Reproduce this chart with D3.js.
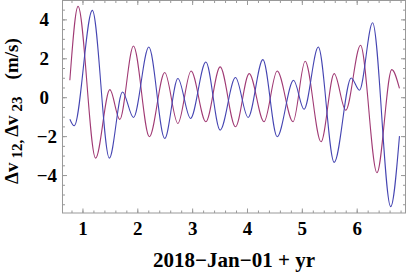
<!DOCTYPE html>
<html>
<head>
<meta charset="utf-8">
<script src="https://cdn.jsdelivr.net/npm/d3@7"></script>
<style>
  body { margin: 0; background: #fff; }
  text { font-family: 'Liberation Serif', 'Times New Roman', serif; font-weight: bold; }
</style>
</head>
<body>
<div id="chart"></div>
<script>
// Data (turning points of each curve)
var xPurple = [0.77, 0.92, 1.24, 1.50, 1.68, 1.93, 2.22, 2.50, 2.74, 2.98, 3.25, 3.51, 3.79, 4.04, 4.31, 4.55, 4.84, 5.06, 5.35, 5.59, 5.80, 6.07, 6.37, 6.64, 6.78]
var yPurple = [0.87, 4.67, -3.13, 0.39, -1.14, 2.63, -2.03, 1.27, -1.35, 1.35, -1.26, 1.56, -1.52, 1.21, -1.26, 1.35, -1.26, 1.85, -2.29, 1.21, -0.67, 2.67, -3.88, 1.42, 0.45]

var xBlue = [0.77, 0.85, 1.18, 1.49, 1.73, 1.93, 2.21, 2.50, 2.74, 2.97, 3.25, 3.51, 3.79, 4.02, 4.29, 4.55, 4.85, 5.04, 5.30, 5.59, 5.90, 6.05, 6.29, 6.62, 6.78]
var yBlue = [-1.13, -1.47, 4.46, -3.13, 0.27, -1.04, 2.58, -2.12, 0.96, -1.09, 1.81, -1.69, 1.01, -1.04, 1.93, -2.03, 0.87, -0.62, 2.58, -3.35, 0.99, 0.36, 3.83, -5.62, -2.0]

var xTicks = [1, 2, 3, 4, 5, 6]
var yTicks = [-4, -2, 0, 2, 4]
var xMinor = d3.range(8, 69, 2).map(d => d / 10)
var yMinor = d3.range(-11, 10).map(d => d / 2)

var xLabel = '2018\u2212Jan\u221201 + yr'

// Set up margin/height/width
var margin = { top: 0.5, left: 62.5, right: 1.5, bottom: 61 }
var svgWidth = 407
var svgHeight = 274
var width = svgWidth - margin.left - margin.right
var height = svgHeight - margin.top - margin.bottom

var svg = d3
  .select('#chart')
  .append('svg')
  .attr('width', svgWidth)
  .attr('height', svgHeight)
  .append('g')
  .attr('transform', `translate(${margin.left},${margin.top})`)

// Scales
var xPositionScale = d3.scaleLinear().domain([0.636, 6.89]).range([0, width])
var yPositionScale = d3.scaleLinear().domain([-5.95, 4.97]).range([height, 0])

var line = d3
  .line()
  .x(d => xPositionScale(d[0]))
  .y(d => yPositionScale(d[1]))
  .curve(d3.curveMonotoneX)

var fmt = d => (d < 0 ? '\u2212' + Math.abs(d) : '' + d)
var frameColor = '#999'

// minor ticks on all four sides
function minorAxes() {
  svg.append('g').attr('class', 'axis').attr('transform', `translate(0,${height})`)
    .call(d3.axisBottom(xPositionScale).tickValues(xMinor).tickSize(-2.5).tickFormat(''))
  svg.append('g').attr('class', 'axis')
    .call(d3.axisTop(xPositionScale).tickValues(xMinor).tickSize(-2.5).tickFormat(''))
  svg.append('g').attr('class', 'axis')
    .call(d3.axisLeft(yPositionScale).tickValues(yMinor).tickSize(-2.5).tickFormat(''))
  svg.append('g').attr('class', 'axis').attr('transform', `translate(${width},0)`)
    .call(d3.axisRight(yPositionScale).tickValues(yMinor).tickSize(-2.5).tickFormat(''))
}
minorAxes()

// major ticks
var xAxis = d3.axisBottom(xPositionScale).tickValues(xTicks).tickSize(-4.5).tickPadding(9).tickFormat(fmt)
svg.append('g').attr('class', 'axis x-axis').attr('transform', `translate(0,${height})`).call(xAxis)

svg.append('g').attr('class', 'axis')
  .call(d3.axisTop(xPositionScale).tickValues(xTicks).tickSize(-4.5).tickFormat(''))

var yAxis = d3.axisLeft(yPositionScale).tickValues(yTicks).tickSize(-4.5).tickFormat(fmt)
svg.append('g').attr('class', 'axis y-axis').call(yAxis)
svg.selectAll('.y-axis text').attr('x', d => (d < 0 ? -5.5 : -13.5))

svg.append('g').attr('class', 'axis').attr('transform', `translate(${width},0)`)
  .call(d3.axisRight(yPositionScale).tickValues(yTicks).tickSize(-4.5).tickFormat(''))

svg.selectAll('.axis .domain').remove()
svg.selectAll('.axis line').attr('stroke', frameColor)
svg.selectAll('.axis text')
  .attr('fill', '#000')
  .style('font-size', '19px')
  .style('font-family', "'Liberation Serif', serif")

// frame
svg.append('rect')
  .attr('width', width)
  .attr('height', height)
  .attr('fill', 'none')
  .attr('stroke', frameColor)

// curves
svg.append('path')
  .datum(d3.zip(xPurple, yPurple))
  .attr('d', line)
  .attr('fill', 'none')
  .attr('stroke', '#a03a74')
  .attr('stroke-width', 1.1)

svg.append('path')
  .datum(d3.zip(xBlue, yBlue))
  .attr('d', line)
  .attr('fill', 'none')
  .attr('stroke', '#4545b2')
  .attr('stroke-width', 1.1)

// axis titles
var root = d3.select('#chart svg')
root.append('text')
  .attr('x', margin.left + width / 2)
  .attr('y', 267)
  .attr('text-anchor', 'middle')
  .style('font-size', '21px')
  .text(xLabel)

var yTitle = root.append('text')
  .attr('transform', 'translate(18,184) rotate(-90)')
  .style('font-size', '19px')
yTitle.append('tspan').text('\u0394v')
yTitle.append('tspan').attr('dx', 4).attr('dy', 4).style('font-size', '15px').text('12,')
yTitle.append('tspan').attr('dx', 3).attr('dy', -4).text('\u0394v')
yTitle.append('tspan').attr('dx', 4).attr('dy', 4).style('font-size', '15px').text('23')
yTitle.append('tspan').attr('dx', 17).attr('dy', -4).text('(m/s)')
</script>
</body>
</html>
